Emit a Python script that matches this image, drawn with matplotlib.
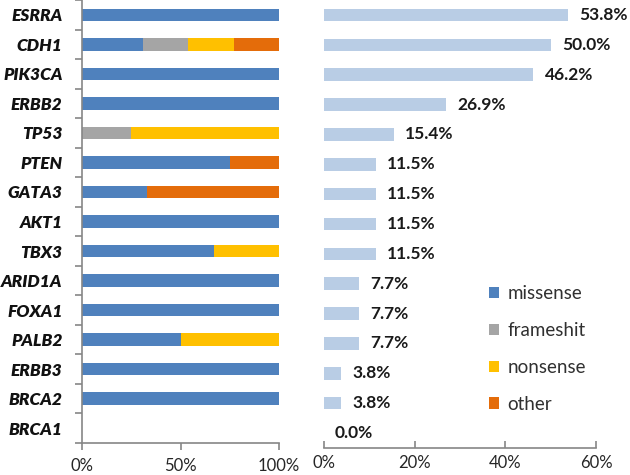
import matplotlib
matplotlib.use("Agg")
import matplotlib.pyplot as plt
import numpy as np
from matplotlib.patches import Patch

genes = ["ESRRA", "CDH1", "PIK3CA", "ERBB2", "TP53", "PTEN", "GATA3", "AKT1",
         "TBX3", "ARID1A", "FOXA1", "PALB2", "ERBB3", "BRCA2", "BRCA1"]
missense  = [1.00, 0.31, 1.00, 1.00, 0.00, 0.75, 0.33, 1.00, 0.67, 1.00, 1.00, 0.50, 1.00, 1.00, 0.00]
frameshit = [0.00, 0.23, 0.00, 0.00, 0.25, 0.00, 0.00, 0.00, 0.00, 0.00, 0.00, 0.00, 0.00, 0.00, 0.00]
nonsense  = [0.00, 0.23, 0.00, 0.00, 0.75, 0.00, 0.00, 0.00, 0.33, 0.00, 0.00, 0.50, 0.00, 0.00, 0.00]
other     = [0.00, 0.23, 0.00, 0.00, 0.00, 0.25, 0.67, 0.00, 0.00, 0.00, 0.00, 0.00, 0.00, 0.00, 0.00]
freq = [53.8, 50.0, 46.2, 26.9, 15.4, 11.5, 11.5, 11.5, 11.5, 7.7, 7.7, 7.7, 3.8, 3.8, 0.0]
series_names = ["missense", "frameshit", "nonsense", "other"]
left_ticks = [0, 0.5, 1.0]
left_ticklabels = ["0%", "50%", "100%"]
right_ticks = [0, 20, 40, 60]
right_ticklabels = ["0%", "20%", "40%", "60%"]

colors = ["#4F81BD", "#A5A5A5", "#FFC000", "#E46C0A"]
light = "#B9CDE5"
axis_gray = "#868686"
font = "Lato"

W, H = 630, 475
fig = plt.figure(figsize=(W / 100, H / 100), dpi=100)

axL = fig.add_axes([82 / W, 1 - 443 / H, (279 - 82) / W, 443 / H])
axR = fig.add_axes([324 / W, 1 - 448 / H, (596 - 324) / W, 448 / H])

y = np.arange(len(genes))
bh = 0.42
left = np.zeros(len(genes))
for vals, c in zip([missense, frameshit, nonsense, other], colors):
    vals = np.array(vals)
    axL.barh(y, vals, left=left, height=bh, color=c, edgecolor="none")
    left += vals

axL.set_xlim(0, 1.0)
axL.set_ylim(len(genes) - 0.5, -0.5)
axL.set_yticks(y)
axL.set_yticklabels(genes, fontfamily=font, fontweight="heavy", fontstyle="italic",
                    fontsize=12.5, color="#111111")
axL.tick_params(axis="y", which="major", length=0, pad=14)
axL.set_yticks(np.arange(-0.5, len(genes) + 0.5, 1), minor=True)
axL.tick_params(axis="y", which="minor", length=5, color=axis_gray, width=1.2, direction="out")
axL.set_xticks(left_ticks)
axL.set_xticklabels(left_ticklabels, fontfamily=font, fontsize=12, color="#262626")
axL.tick_params(axis="x", length=5, color=axis_gray, width=1.2, direction="out", pad=6)
for s in ["top", "right"]:
    axL.spines[s].set_visible(False)
for s in ["left", "bottom"]:
    axL.spines[s].set_color(axis_gray)
    axL.spines[s].set_linewidth(1.2)

axR.barh(y, freq, height=bh, color=light, edgecolor="none")
for yi, v in zip(y, freq):
    axR.annotate(f"{v:.1f}%", (v, yi), xytext=(8, 0), textcoords="offset points",
                 ha="left", va="center", fontfamily=font, fontweight="bold",
                 fontsize=12.5, color="#1a1a1a")
axR.set_xlim(0, 60)
axR.set_ylim(len(genes) - 0.5, -0.5)
axR.set_yticks([])
axR.set_xticks(right_ticks)
axR.set_xticklabels(right_ticklabels, fontfamily=font, fontsize=12, color="#262626")
axR.tick_params(axis="x", length=5, color=axis_gray, width=1.2, direction="in", pad=5)
for s in ["top", "right", "left"]:
    axR.spines[s].set_visible(False)
axR.spines["bottom"].set_color(axis_gray)
axR.spines["bottom"].set_linewidth(1.2)

handles = [Patch(facecolor=c, edgecolor="none") for c in colors]
leg = fig.legend(handles, series_names, loc="center left",
                 bbox_to_anchor=(472 / W, 1 - 349 / H), frameon=False,
                 prop={"family": font, "size": 13.5}, handlelength=0.55, handleheight=0.55,
                 handletextpad=0.45, labelspacing=1.05, labelcolor="#303030")

fig.savefig("out.png", dpi=100)
